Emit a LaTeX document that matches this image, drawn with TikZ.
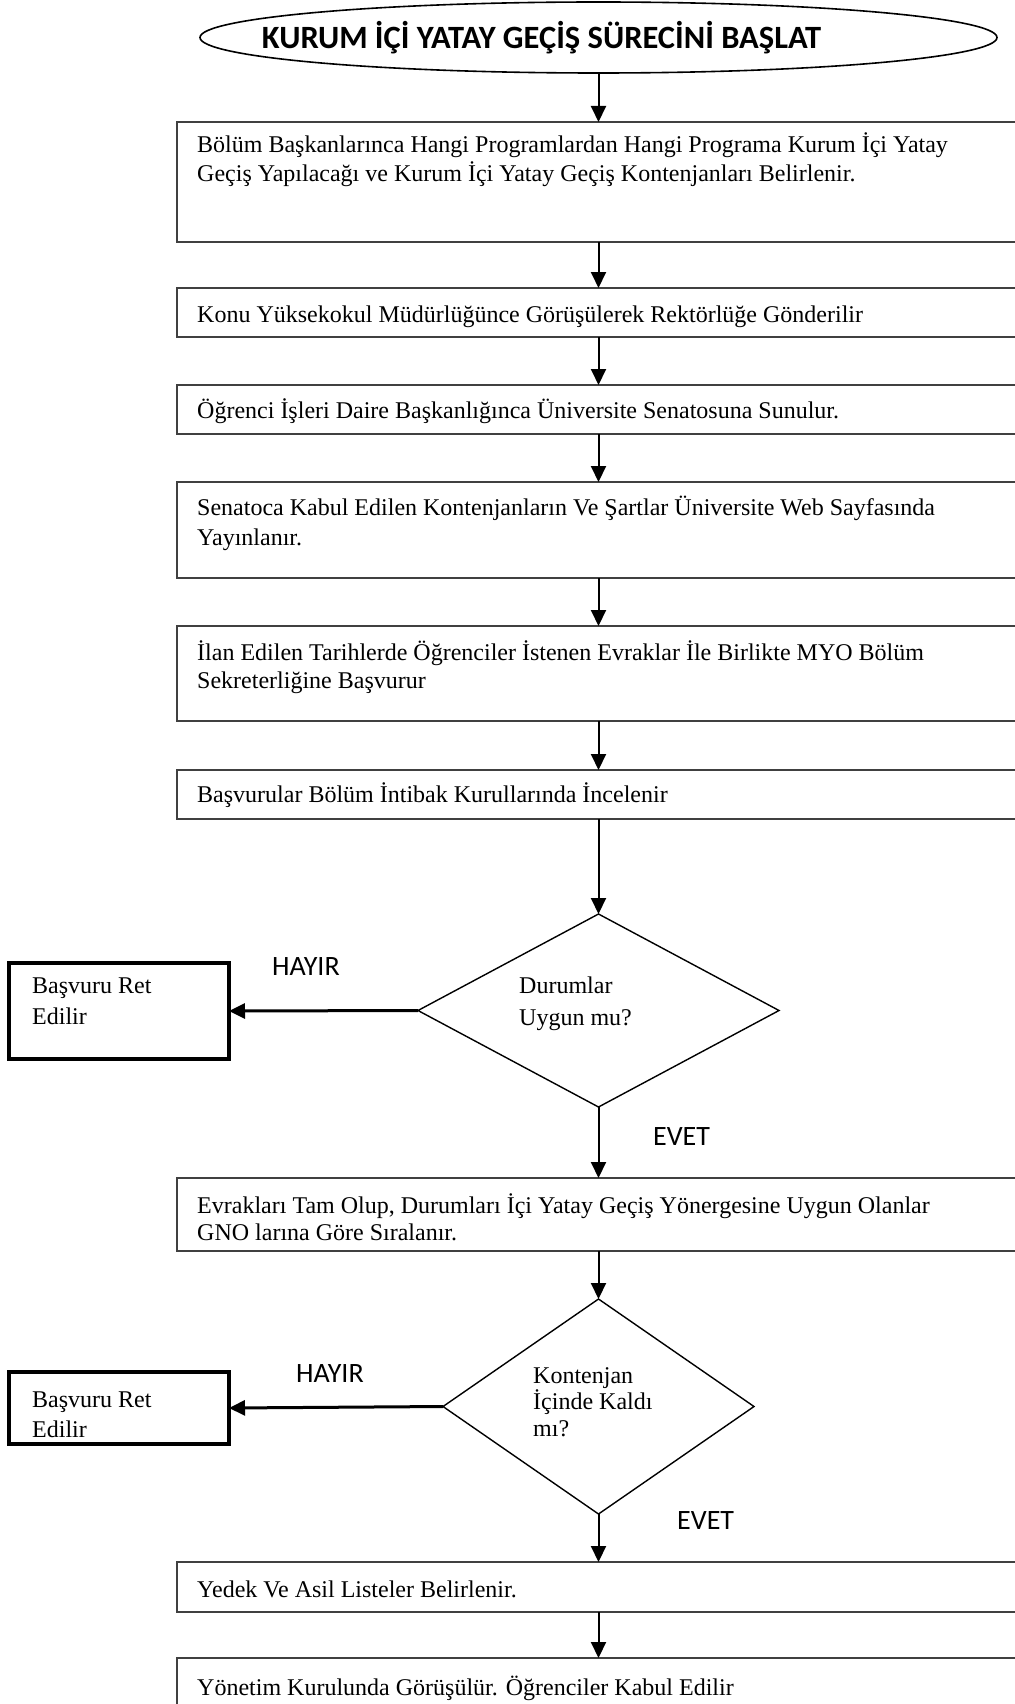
\documentclass[tikz,border=0pt]{standalone}
\usepackage{fontspec}
\setmainfont{Liberation Serif}
\newfontfamily\calibri{Carlito}
\usetikzlibrary{shapes.geometric,arrows.meta}

% left-aligned lines whose reference point is the first baseline
\newcommand\txtstack[2]{\vtop{\baselineskip=#1pt\relax\lineskiplimit=-100pt\relax
  \halign{##\hfil\cr#2\crcr}}}

\begin{document}
\begin{tikzpicture}[x=1pt,y=-1pt,
  stepbox/.style={draw=black!75, line width=2pt, rectangle, anchor=north west,
    minimum width=880pt, inner sep=0pt, outer sep=0pt},
  rejbox/.style={draw=black, line width=3.5pt, rectangle, anchor=north west,
    minimum width=220pt, inner sep=0pt, outer sep=0pt},
  body/.style={anchor=base west, inner sep=0pt, font=\fontsize{24}{29}\selectfont},
  decide/.style={draw=black, diamond, line width=1.4pt, inner sep=0pt, outer sep=0pt},
  arr/.style={draw=black, line width=2pt, -{Triangle[length=16pt,width=15pt]}},
  noarr/.style={arr, line width=3pt},
  yn/.style={anchor=base west, inner sep=0pt, font=\calibri\fontsize{28}{32}\selectfont}
]
\useasboundingbox (0,0) rectangle (1014,1704);

% start terminator
\node[draw=black, ellipse, line width=1.6pt, minimum width=797pt, minimum height=71pt,
  inner sep=0pt, outer sep=0pt] (start) at (598.5,37.5) {};
\node[anchor=base, inner sep=0pt, font=\calibri\bfseries\fontsize{32.5}{38}\selectfont]
  (title) at (541.5,49) {KURUM İÇİ YATAY GEÇİŞ SÜRECİNİ BAŞLAT};

% process steps
\node[stepbox, minimum height=120pt] (b1) at (177,122) {};
\node[body] (t1) at (197,153) {\txtstack{29}{Bölüm Başkanlarınca Hangi Programlardan Hangi Programa Kurum İçi Yatay\cr
  Geçiş Yapılacağı ve Kurum İçi Yatay Geçiş Kontenjanları Belirlenir.}};

\node[stepbox, minimum height=49pt] (b2) at (177,288) {};
\node[body] (t2) at (197,322) {Konu Yüksekokul Müdürlüğünce Görüşülerek Rektörlüğe Gönderilir};

\node[stepbox, minimum height=49pt] (b3) at (177,385) {};
\node[body] (t3) at (197,418) {Öğrenci İşleri Daire Başkanlığınca Üniversite Senatosuna Sunulur.};

\node[stepbox, minimum height=96pt] (b4) at (177,482) {};
\node[body] (t4) at (197,515) {\txtstack{30}{Senatoca Kabul Edilen Kontenjanların Ve Şartlar Üniversite Web Sayfasında\cr
  Yayınlanır.}};

\node[stepbox, minimum height=95pt] (b5) at (177,626) {};
\node[body] (t5) at (197,660) {\txtstack{28}{İlan Edilen Tarihlerde Öğrenciler İstenen Evraklar İle Birlikte MYO Bölüm\cr
  Sekreterliğine Başvurur}};

\node[stepbox, minimum height=49pt] (b6) at (177,770) {};
\node[body] (t6) at (197,802) {Başvurular Bölüm İntibak Kurullarında İncelenir};

% first decision
\node[decide, minimum width=361pt, minimum height=193pt] (d1) at (598.5,1010.5) {};
\node[body] (td1) at (519,993) {\txtstack{32}{Durumlar\cr Uygun mu?}};
\node[rejbox, minimum height=96pt] (r1) at (9,963) {};
\node[body] (tr1) at (32,993) {\txtstack{31}{Başvuru Ret\cr Edilir}};
\node[yn] (no1) at (272,975) {HAYIR};
\node[yn] (yes1) at (653,1145) {EVET};

\node[stepbox, minimum height=73pt] (b7) at (177,1178) {};
\node[body] (t7) at (197,1213) {\txtstack{27}{Evrakları Tam Olup, Durumları İçi Yatay Geçiş Yönergesine Uygun Olanlar\cr
  GNO larına Göre Sıralanır.}};

% second decision
\node[decide, minimum width=311pt, minimum height=215pt] (d2) at (598.5,1406.5) {};
\node[body] (td2) at (533,1383) {\txtstack{26.5}{Kontenjan\cr İçinde Kaldı\cr mı?}};
\node[rejbox, minimum height=72pt] (r2) at (9,1372) {};
\node[body] (tr2) at (32,1407) {\txtstack{30}{Başvuru Ret\cr Edilir}};
\node[yn] (no2) at (296,1382) {HAYIR};
\node[yn] (yes2) at (677,1529) {EVET};

\node[stepbox, minimum height=50pt] (b8) at (177,1562) {};
\node[body] (t8) at (197,1597) {Yedek Ve Asil Listeler Belirlenir.};

\node[stepbox, minimum height=80pt] (b9) at (177,1658) {};
\node[body] (t9) at (197,1695) {Yönetim Kurulunda Görüşülür. Öğrenciler Kabul Edilir};

% connectors
\draw[arr] (start.south) -- (b1.north -| start.south);
\draw[arr] (b1.south -| start.south) -- (b2.north -| start.south);
\draw[arr] (b2.south -| start.south) -- (b3.north -| start.south);
\draw[arr] (b3.south -| start.south) -- (b4.north -| start.south);
\draw[arr] (b4.south -| start.south) -- (b5.north -| start.south);
\draw[arr] (b5.south -| start.south) -- (b6.north -| start.south);
\draw[arr] (b6.south -| d1.north) -- (d1.north);
\draw[noarr] (d1.west) -- (r1.east);
\draw[arr] (d1.south) -- (b7.north -| d1.south);
\draw[arr] (b7.south -| d2.north) -- (d2.north);
\draw[noarr] (d2.west) -- (r2.east);
\draw[arr] (d2.south) -- (b8.north -| d2.south);
\draw[arr] (b8.south -| d2.south) -- (b9.north -| d2.south);
\end{tikzpicture}
\end{document}
